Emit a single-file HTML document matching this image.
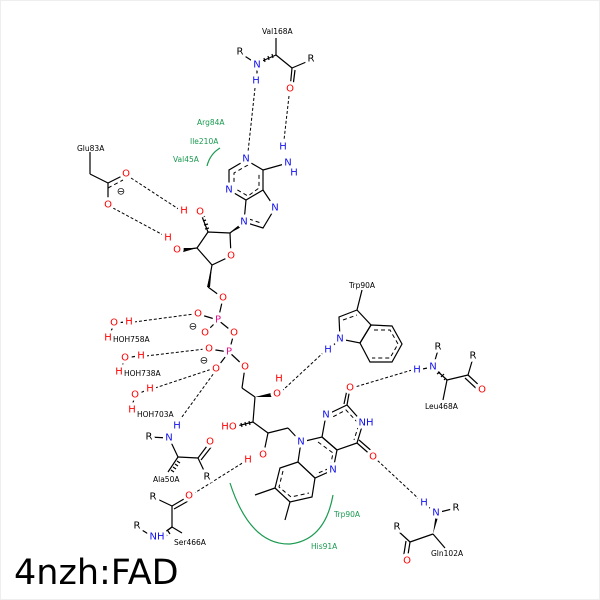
<!DOCTYPE html>
<html><head><meta charset="utf-8"><style>
html,body{margin:0;padding:0;background:#fff}
svg{display:block}
text{font-family:"DejaVu Sans","Liberation Sans",sans-serif}
.a{font-size:10px;text-anchor:middle;dominant-baseline:central;paint-order:stroke;stroke:#fff;stroke-width:6.5px;stroke-linejoin:round}
.l{font-size:7.5px;fill:#000}
.g{font-size:7.5px;fill:#1a9a50}
.b{stroke:#000;stroke-width:1.2;fill:none}
.d{stroke:#000;stroke-width:1;fill:none;stroke-dasharray:3,2}
.ad{stroke:#000;stroke-width:1;fill:none;stroke-dasharray:4,3}
.N{fill:#1010ee}.O{fill:#f00}.P{fill:#e0108a}.K{fill:#000}
</style></head><body>
<svg width="600" height="600" viewBox="0 0 600 600">
<rect x="0.5" y="0.5" width="599" height="599" fill="#fff" stroke="#eee"/>
<g class="d">
<line x1="255" y1="88" x2="248" y2="152"/>
<line x1="289" y1="96" x2="284" y2="140"/>
<line x1="131" y1="178" x2="180" y2="210"/>
<line x1="113" y1="208" x2="165" y2="236"/>
<line x1="134" y1="322" x2="194" y2="314"/>
<line x1="146" y1="356" x2="205" y2="349"/>
<line x1="155" y1="388" x2="212" y2="369"/>
<line x1="179" y1="421" x2="214" y2="373"/>
<line x1="324" y1="352" x2="283" y2="390"/>
<line x1="412" y1="370" x2="355" y2="387"/>
<line x1="420" y1="500" x2="377" y2="460"/>
<line x1="193" y1="494" x2="244" y2="462"/>
</g>
<path d="M207 166 Q210 154 220 148" stroke="#1a9a50" stroke-width="1.2" fill="none"/>
<path d="M230 483 Q250 545 290 544 Q325 540 333 495" stroke="#1a9a50" stroke-width="1.2" fill="none"/>
<g class="b">
<line x1="276" y1="38" x2="276" y2="55"/>
<line x1="240" y1="53" x2="257" y2="64"/>
<line x1="276" y1="55" x2="292" y2="68"/>
<line x1="292" y1="68" x2="311" y2="60"/>
<line x1="292" y1="68" x2="290" y2="89"/>
<line x1="295" y1="70" x2="293" y2="86"/>
<line x1="257" y1="81" x2="257" y2="68"/>
<polygon points="246,160 229,170 229,190 246,200 263,190 263,170"/>
<polyline points="246,200 244,222 263,228 275,208 263,190"/>
<line x1="263" y1="170" x2="288" y2="163"/>
<line x1="244" y1="222" x2="230" y2="233"/>
<polyline points="230,233 231,256 212,265 197,248 208,232 230,233"/>
<line x1="212" y1="265" x2="208" y2="287"/>
<line x1="208" y1="287" x2="223" y2="298"/>
<line x1="197" y1="248" x2="180" y2="250"/>
<line x1="90" y1="152" x2="90" y2="174"/>
<line x1="90" y1="174" x2="108" y2="183"/>
<line x1="108" y1="183" x2="126" y2="174"/>
<line x1="108" y1="183" x2="108" y2="205"/>
<line x1="223" y1="298" x2="218" y2="320"/>
<line x1="218" y1="320" x2="198" y2="314"/>
<line x1="218" y1="320" x2="205" y2="333"/>
<line x1="218" y1="320" x2="234" y2="333"/>
<line x1="234" y1="333" x2="229" y2="352"/>
<line x1="229" y1="352" x2="209" y2="349"/>
<line x1="229" y1="352" x2="216" y2="369"/>
<line x1="229" y1="352" x2="245" y2="367"/>
<line x1="245" y1="367" x2="242" y2="388"/>
<line x1="242" y1="388" x2="255" y2="397"/>
<line x1="255" y1="397" x2="253" y2="422"/>
<line x1="253" y1="422" x2="268" y2="433"/>
<line x1="268" y1="433" x2="288" y2="428"/>
<line x1="288" y1="428" x2="301" y2="442"/>
<line x1="268" y1="433" x2="264" y2="452"/>
<line x1="114" y1="323" x2="126" y2="322"/><line x1="113" y1="327" x2="109" y2="335"/>
<line x1="125" y1="358" x2="138" y2="356"/><line x1="124" y1="362" x2="120" y2="369"/>
<line x1="135" y1="395" x2="147" y2="390"/><line x1="134" y1="399" x2="132" y2="407"/>
<line x1="149" y1="437" x2="169" y2="438"/>
<line x1="169" y1="438" x2="177" y2="426"/>
<line x1="169" y1="438" x2="178" y2="457"/>
<line x1="178" y1="457" x2="198" y2="458"/>
<line x1="198" y1="458" x2="210" y2="442"/>
<line x1="201" y1="460" x2="212" y2="446"/>
<line x1="198" y1="458" x2="207" y2="477"/>
<line x1="153" y1="497" x2="172" y2="506"/>
<line x1="172" y1="506" x2="189" y2="496"/>
<line x1="174" y1="509" x2="190" y2="500"/>
<line x1="172" y1="506" x2="172" y2="527"/>
<line x1="172" y1="527" x2="158" y2="537"/>
<line x1="137" y1="527" x2="150" y2="535"/>
<line x1="172" y1="527" x2="182" y2="533"/>
<polygon points="301,442 322,437 337,450 333,470 315,478 298,462"/>
<polygon points="322,437 326,415 347,405 363,423 357,443 337,450"/>
<polygon points="298,462 280,468 275,488 290,502 312,497 315,478"/>
<line x1="347" y1="405" x2="350" y2="388"/>
<line x1="344" y1="404" x2="347" y2="390"/>
<line x1="357" y1="443" x2="373" y2="457"/>
<line x1="359" y1="440" x2="374" y2="453"/>
<line x1="275" y1="488" x2="255" y2="495"/>
<line x1="290" y1="502" x2="285" y2="520"/>
<line x1="362" y1="290" x2="357" y2="310"/>
<polyline points="357,310 339,317 340,339 360,343 371,325 357,310"/>
<polygon points="371,325 392,326 402,344 392,362 370,362 360,343"/>
<line x1="340" y1="339" x2="328" y2="350"/>
<line x1="417" y1="370" x2="433" y2="367"/>
<line x1="433" y1="367" x2="438" y2="350"/>
<line x1="447" y1="380" x2="468" y2="375"/>
<line x1="468" y1="375" x2="473" y2="358"/>
<line x1="468" y1="375" x2="482" y2="388"/>
<line x1="465" y1="378" x2="479" y2="391"/>
<line x1="447" y1="380" x2="443" y2="400"/>
<line x1="424" y1="503" x2="436" y2="513"/>
<line x1="436" y1="513" x2="456" y2="508"/>
<line x1="433" y1="534" x2="410" y2="542"/>
<line x1="433" y1="534" x2="445" y2="548"/>
<line x1="410" y1="542" x2="397" y2="530"/>
<line x1="410" y1="542" x2="407" y2="561"/>
<line x1="406" y1="541" x2="403" y2="560"/>
</g>
<g class="ad">
<polyline points="248,165 234,173 234,188 248,196 259,188 259,173"/>
<polyline points="327,420 346,410 359,424 354,440"/>
<polyline points="318,442 333,453 330,468 316,474"/>
<polyline points="283,471 279,487 291,497 309,493"/>
<polyline points="374,330 390,330 398,344 390,358 372,358"/>
<line x1="343" y1="320" x2="357" y2="315"/>
<line x1="249" y1="219" x2="261" y2="223"/>
<line x1="108" y1="188" x2="123" y2="180"/>
</g>
<polygon points="230,233 244,221 245,225" fill="#000"/>
<polygon points="212,265 207,287 210,287" fill="#000"/>
<polygon points="197,248 180,248 180,253" fill="#000"/>
<polygon points="255,397 275,392 276,397" fill="#000"/>
<polygon points="433,534 436,513 439,514" fill="#000"/>
<g class="b" stroke-width="0.8">
<path d="M208,232 L201,214 M205,229l4,-1 M204,225l4,-1 M203,221l3,-1 M202,217l3,-1"/>
<path d="M276,55 L260,62 M272,54l1,4 M268,56l1,4 M264,58l1,4"/>
<path d="M253,422 L233,427 M249,421l1,4 M245,422l1,4 M241,423l1,4 M237,424l1,4"/>
<path d="M178,457 L168,472 M177,461l3,2 M175,464l3,2 M173,467l3,2 M171,470l3,2"/>
<path d="M433,367 L447,380 M437,374l3,-2 M441,377l3,-3 M444,380l2,-2"/>
<path d="M172,527 L160,536 M168,531l2,3 M165,533l2,3"/>
</g>
<g>
<text class="a N" x="257" y="65">N</text><text class="a N" x="256" y="81">H</text>
<text class="a K" x="240" y="52">R</text><text class="a K" x="311" y="59">R</text>
<text class="a O" x="290" y="89">O</text>
<text class="a N" x="246" y="159">N</text><text class="a N" x="229" y="190">N</text>
<text class="a N" x="244" y="222">N</text><text class="a N" x="275" y="208">N</text>
<text class="a N" x="288" y="163">N</text><text class="a N" x="283" y="147">H</text><text class="a N" x="294" y="173">H</text>
<text class="a O" x="231" y="256">O</text>
<text class="a O" x="200" y="212">O</text><text class="a O" x="184" y="211">H</text>
<text class="a O" x="177" y="250">O</text><text class="a O" x="168" y="238">H</text>
<text class="a O" x="126" y="174">O</text><text class="a O" x="108" y="205">O</text>
<text class="a K" x="121" y="192" font-size="9">⊖</text>
<text class="a O" x="223" y="298">O</text>
<text class="a P" x="218" y="320">P</text>
<text class="a O" x="198" y="314">O</text><text class="a O" x="205" y="333">O</text>
<text class="a K" x="193" y="327" font-size="9">⊖</text>
<text class="a O" x="234" y="333">O</text>
<text class="a P" x="229" y="352">P</text>
<text class="a O" x="209" y="349">O</text><text class="a O" x="216" y="369">O</text><text class="a O" x="245" y="367">O</text>
<text class="a K" x="204" y="361" font-size="9">⊖</text>
<text class="a O" x="277" y="394">O</text><text class="a O" x="279" y="379">H</text>
<text class="a O" x="229" y="427">HO</text>
<text class="a O" x="263" y="455">O</text><text class="a O" x="248" y="460">H</text>
<text class="a O" x="114" y="323">O</text><text class="a O" x="129" y="322">H</text><text class="a O" x="108" y="338">H</text>
<text class="a O" x="125" y="358">O</text><text class="a O" x="141" y="356">H</text><text class="a O" x="119" y="372">H</text>
<text class="a O" x="135" y="395">O</text><text class="a O" x="150" y="389">H</text><text class="a O" x="132" y="410">H</text>
<text class="a K" x="149" y="437">R</text><text class="a N" x="169" y="438">N</text><text class="a N" x="177" y="426">H</text>
<text class="a O" x="210" y="442">O</text><text class="a K" x="207" y="477">R</text>
<text class="a O" x="189" y="496">O</text><text class="a K" x="153" y="497">R</text>
<text class="a N" x="157" y="537">NH</text><text class="a K" x="137" y="526">R</text>
<text class="a N" x="301" y="442">N</text><text class="a N" x="326" y="415">N</text>
<text class="a N" x="366" y="423">NH</text><text class="a N" x="333" y="470">N</text>
<text class="a O" x="350" y="388">O</text><text class="a O" x="373" y="457">O</text>
<text class="a N" x="340" y="339">N</text><text class="a N" x="328" y="350">H</text>
<text class="a N" x="417" y="370">H</text><text class="a N" x="433" y="367">N</text>
<text class="a K" x="438" y="347">R</text><text class="a K" x="473" y="356">R</text><text class="a O" x="482" y="390">O</text>
<text class="a N" x="424" y="503">H</text><text class="a N" x="436" y="513">N</text>
<text class="a K" x="456" y="508">R</text><text class="a K" x="397" y="527">R</text><text class="a O" x="407" y="561">O</text>
</g>
<g>
<text class="l" x="262" y="34">Val168A</text>
<text class="l" x="77" y="151">Glu83A</text>
<text class="l" x="113" y="342">HOH758A</text>
<text class="l" x="124" y="376">HOH738A</text>
<text class="l" x="137" y="417">HOH703A</text>
<text class="l" x="153" y="482">Ala50A</text>
<text class="l" x="174" y="545">Ser466A</text>
<text class="l" x="349" y="288">Trp90A</text>
<text class="l" x="425" y="409">Leu468A</text>
<text class="l" x="431" y="556">Gln102A</text>
<text class="g" x="197" y="125">Arg84A</text>
<text class="g" x="190" y="144">Ile210A</text>
<text class="g" x="173" y="162">Val45A</text>
<text class="g" x="334" y="517">Trp90A</text>
<text class="g" x="311" y="549">His91A</text>
</g>
<text x="14" y="584" font-size="35" fill="#000">4nzh:FAD</text>
</svg>
</body></html>
